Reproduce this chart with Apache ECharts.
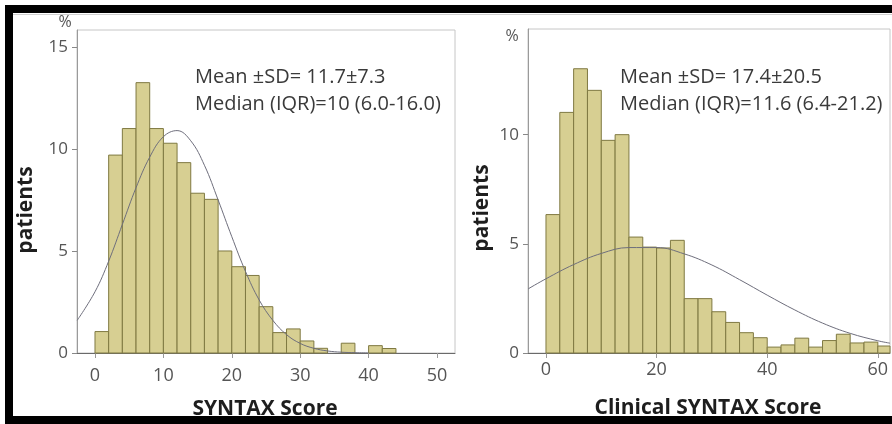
<!DOCTYPE html>
<html><head><meta charset="utf-8">
<script src="https://cdn.jsdelivr.net/npm/echarts@6/dist/echarts.min.js"></script>
<style>html,body{margin:0;padding:0;background:#fff}#c{width:892px;height:424px}</style>
</head><body><div id="c"></div>
<script>
// ---- Left panel: SYNTAX Score (bin width 2) ----
const leftBinWidth = 2;
const leftBinStarts = [0,2,4,6,8,10,12,14,16,18,20,22,24,26,28,30,32,34,36,38,40,42];
const leftPercents  = [1.05,9.7,11.0,13.25,11.0,10.28,9.33,7.83,7.53,5.0,4.23,3.8,2.27,1.0,1.18,0.59,0.23,0,0.48,0,0.36,0.22];
const leftCurveX = [-2.6,0,2,4,6,8,10,12,14,16,18,20,22,24,26,28,30,32,34,36,38,40];
const leftCurveY = [1.6,3.0,4.5,6.3,8.1,9.6,10.6,10.9,10.4,9.2,7.5,5.7,4.0,2.6,1.6,0.9,0.47,0.23,0.1,0.04,0.015,0.005];
const leftXTicks = [0,10,20,30,40,50];
const leftYTicks = [0,5,10,15];

// ---- Right panel: Clinical SYNTAX Score (bin width 2.5) ----
const rightBinWidth = 2.5;
const rightBinStarts = [0,2.5,5,7.5,10,12.5,15,17.5,20,22.5,25,27.5,30,32.5,35,37.5,40,42.5,45,47.5,50,52.5,55,57.5,60];
const rightPercents  = [6.34,11.02,13.02,12.03,9.74,10.0,5.31,4.85,4.81,5.16,2.49,2.49,1.89,1.40,0.93,0.70,0.27,0.37,0.68,0.27,0.57,0.86,0.46,0.50,0.32];
const rightCurveX = [-3.2,0,5,10,15,20,25,30,35,40,45,50,55,60,62.2];
const rightCurveY = [2.94,3.40,4.05,4.56,4.83,4.83,4.54,4.03,3.36,2.65,1.97,1.37,0.9,0.56,0.45];
const rightXTicks = [0,20,40,60];
const rightYTicks = [0,5,10];

const FONT = '"Open Sans", "Noto Sans", sans-serif';
const BAR_FILL = '#d7cf92';
const BAR_STROKE = '#7f7942';
const CURVE = '#6e6e7c';

function histRender(binWidth) {
  return function (params, api) {
    const x0 = api.value(0), h = api.value(1);
    if (!(h > 0)) return null;
    const p0 = api.coord([x0, h]);
    const p1 = api.coord([x0 + binWidth, 0]);
    const cs = params.coordSys;
    const shape = echarts.graphic.clipRectByRect(
      { x: p0[0], y: p0[1], width: p1[0] - p0[0], height: p1[1] - p0[1] },
      { x: cs.x, y: cs.y, width: cs.width, height: cs.height });
    if (!shape) return null;
    return { type: 'rect', shape: shape, style: { fill: BAR_FILL, stroke: BAR_STROKE, lineWidth: 1 } };
  };
}

function xAxisCfg(gridIndex, min, max, ticks, margin) {
  return {
    type: 'value', gridIndex: gridIndex, min: min, max: max,
    axisLine: { show: true, onZero: false, lineStyle: { color: '#6a6a6a', width: 1 } },
    axisTick: { show: true, customValues: ticks, length: 5, lineStyle: { color: '#999' } },
    axisLabel: { customValues: ticks, color: '#555', fontSize: 18, fontFamily: FONT, margin: margin },
    splitLine: { show: false }
  };
}
function yAxisCfg(gridIndex, max, ticks) {
  return {
    type: 'value', gridIndex: gridIndex, min: 0, max: max,
    axisLine: { show: true, onZero: false, lineStyle: { color: '#9a9a9a', width: 1 } },
    axisTick: { show: true, customValues: ticks, length: 5, lineStyle: { color: '#888' } },
    axisLabel: { customValues: ticks, color: '#555', fontSize: 17, fontFamily: FONT, margin: 9 },
    splitLine: { show: false }
  };
}

const chart = echarts.init(document.getElementById('c'), null, { renderer: 'canvas' });
chart.setOption({
  backgroundColor: '#fff',
  animation: false,
  grid: [
    { left: 77, top: 30, width: 378, height: 323, show: true, borderColor: '#c6c6c6', borderWidth: 1, backgroundColor: 'transparent' },
    { left: 528, top: 29, width: 362, height: 324, show: true, borderColor: '#c6c6c6', borderWidth: 1, backgroundColor: 'transparent' }
  ],
  xAxis: [
    xAxisCfg(0, -2.63, 52.63, leftXTicks, 14),
    xAxisCfg(1, -3.25, 62.2, rightXTicks, 8)
  ],
  yAxis: [
    yAxisCfg(0, 15.83, leftYTicks),
    yAxisCfg(1, 14.84, rightYTicks)
  ],
  series: [
    { type: 'custom', xAxisIndex: 0, yAxisIndex: 0, renderItem: histRender(leftBinWidth),
      encode: { x: 0, y: 1 }, data: leftBinStarts.map((x, i) => [x, leftPercents[i]]) },
    { type: 'line', xAxisIndex: 0, yAxisIndex: 0, smooth: 0.4, symbol: 'none',
      lineStyle: { color: CURVE, width: 1 }, data: leftCurveX.map((x, i) => [x, leftCurveY[i]]), z: 3 },
    { type: 'custom', xAxisIndex: 1, yAxisIndex: 1, renderItem: histRender(rightBinWidth),
      encode: { x: 0, y: 1 }, data: rightBinStarts.map((x, i) => [x, rightPercents[i]]) },
    { type: 'line', xAxisIndex: 1, yAxisIndex: 1, smooth: 0.4, symbol: 'none',
      lineStyle: { color: CURVE, width: 1 }, data: rightCurveX.map((x, i) => [x, rightCurveY[i]]), z: 3 }
  ],
  graphic: [
    // annotations
    { type: 'text', x: 195, y: 77, z: 10, style: { text: 'Mean \u00b1SD= 11.7\u00b17.3', font: '20px ' + FONT, fill: '#3a3a3a', verticalAlign: 'middle' } },
    { type: 'text', x: 195, y: 104, z: 10, style: { text: 'Median (IQR)=10 (6.0-16.0)', font: '20px ' + FONT, fill: '#3a3a3a', verticalAlign: 'middle' } },
    { type: 'text', x: 620, y: 77, z: 10, style: { text: 'Mean \u00b1SD= 17.4\u00b120.5', font: '20px ' + FONT, fill: '#3a3a3a', verticalAlign: 'middle' } },
    { type: 'text', x: 620, y: 104, z: 10, style: { text: 'Median (IQR)=11.6 (6.4-21.2)', font: '20px ' + FONT, fill: '#3a3a3a', verticalAlign: 'middle' } },
    // percent signs
    { type: 'text', x: 65, y: 22, z: 10, style: { text: '%', font: '16px ' + FONT, fill: '#555', align: 'center', verticalAlign: 'middle' } },
    { type: 'text', x: 512, y: 36, z: 10, style: { text: '%', font: '16px ' + FONT, fill: '#555', align: 'center', verticalAlign: 'middle' } },
    // axis titles
    { type: 'text', x: 26, y: 210, rotation: Math.PI / 2, z: 10, style: { text: 'patients', font: 'bold 21px ' + FONT, fill: '#1e1e1e', align: 'center', verticalAlign: 'middle' } },
    { type: 'text', x: 482, y: 208, rotation: Math.PI / 2, z: 10, style: { text: 'patients', font: 'bold 21px ' + FONT, fill: '#1e1e1e', align: 'center', verticalAlign: 'middle' } },
    { type: 'text', x: 265, y: 409, z: 10, style: { text: 'SYNTAX Score', font: 'bold 21px ' + FONT, fill: '#1e1e1e', align: 'center', verticalAlign: 'middle' } },
    { type: 'text', x: 708, y: 408, z: 10, style: { text: 'Clinical SYNTAX Score', font: 'bold 21px ' + FONT, fill: '#1e1e1e', align: 'center', verticalAlign: 'middle' } },
    // black frame
    { type: 'rect', z: 20, shape: { x: 5, y: 5, width: 887, height: 8 }, style: { fill: '#000' } },
    { type: 'rect', z: 20, shape: { x: 5, y: 5, width: 8, height: 419 }, style: { fill: '#000' } },
    { type: 'rect', z: 20, shape: { x: 5, y: 416, width: 887, height: 8 }, style: { fill: '#000' } },
    { type: 'rect', z: 20, shape: { x: 13, y: 14, width: 879, height: 1 }, style: { fill: '#d0d0d0' } }
  ]
});
</script>
</body></html>
